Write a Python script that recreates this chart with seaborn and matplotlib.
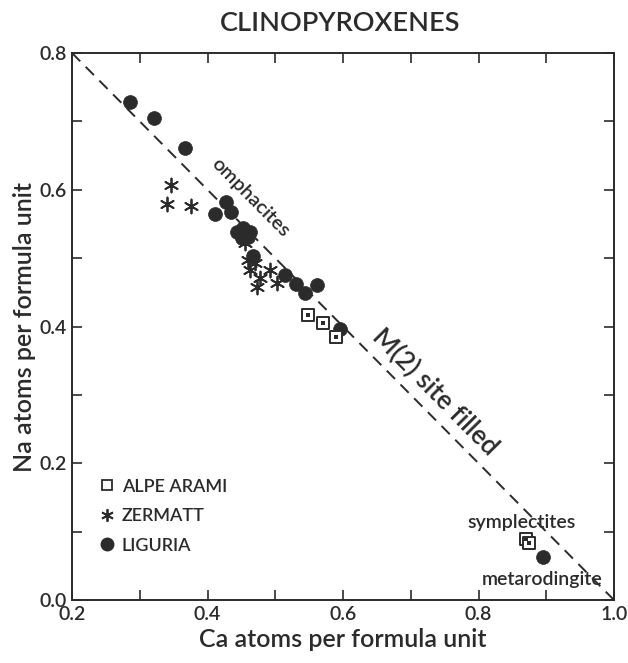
import numpy as np
import pandas as pd
import matplotlib
matplotlib.use("Agg")
import matplotlib.pyplot as plt
import seaborn as sns
from matplotlib.lines import Line2D

# ---- data ----
liguria_ca = [0.286, 0.321, 0.367, 0.411, 0.427, 0.435, 0.444, 0.452, 0.463, 0.451,
              0.460, 0.467, 0.514, 0.531, 0.544, 0.562, 0.596, 0.895]
liguria_na = [0.728, 0.705, 0.661, 0.565, 0.582, 0.567, 0.538, 0.544, 0.538, 0.529,
              0.531, 0.503, 0.475, 0.462, 0.449, 0.461, 0.396, 0.063]
zermatt_ca = [0.346, 0.340, 0.376, 0.455, 0.460, 0.470, 0.463, 0.492, 0.477, 0.503, 0.473]
zermatt_na = [0.607, 0.579, 0.576, 0.522, 0.497, 0.493, 0.483, 0.483, 0.471, 0.464, 0.458]
arami_ca = [0.548, 0.570, 0.590, 0.870, 0.875]
arami_na = [0.417, 0.405, 0.385, 0.089, 0.083]

line_ca = [0.2, 1.0]
line_na = [0.8, 0.0]

x_ticks = [0.2, 0.3, 0.4, 0.5, 0.6, 0.7, 0.8, 0.9, 1.0]
x_ticklabels = ["0.2", "", "0.4", "", "0.6", "", "0.8", "", "1.0"]
y_ticks = [0.0, 0.1, 0.2, 0.3, 0.4, 0.5, 0.6, 0.7, 0.8]
y_ticklabels = ["0.0", "", "0.2", "", "0.4", "", "0.6", "", "0.8"]

df = pd.concat([
    pd.DataFrame({"Ca": arami_ca, "Na": arami_na, "loc": "ALPE ARAMI"}),
    pd.DataFrame({"Ca": zermatt_ca, "Na": zermatt_na, "loc": "ZERMATT"}),
    pd.DataFrame({"Ca": liguria_ca, "Na": liguria_na, "loc": "LIGURIA"}),
])

sns.set_theme(style="white")
plt.rcParams["font.family"] = ["Lato", "DejaVu Sans"]
plt.rcParams["font.weight"] = "semibold"
ink = "#2b2b2b"
fw = "semibold"

fig = plt.figure(figsize=(6.28, 6.63), dpi=100)
ax = fig.add_axes([72/628, 1-600/663, (614-72)/628, (600-53)/663])

ax.plot(line_ca, line_na, ls=(0, (6, 4)), color=ink, lw=1.4, zorder=1)

d_lig = df[df["loc"] == "LIGURIA"]
d_zer = df[df["loc"] == "ZERMATT"]
d_ara = df[df["loc"] == "ALPE ARAMI"]

sns.scatterplot(data=d_lig, x="Ca", y="Na", marker="o", s=100, color=ink,
                edgecolor=ink, linewidth=0.5, ax=ax, zorder=3)
sns.scatterplot(data=d_zer, x="Ca", y="Na", marker=(6, 2, 0), s=100, color=ink,
                edgecolor=ink, linewidth=1.3, ax=ax, zorder=3)
sns.scatterplot(data=d_ara, x="Ca", y="Na", marker="s", s=65, facecolor="white",
                edgecolor=ink, linewidth=1.4, ax=ax, zorder=4)
sns.scatterplot(data=d_ara, x="Ca", y="Na", marker="s", s=5, color=ink,
                edgecolor=ink, linewidth=0, ax=ax, zorder=5)

ax.set_xlim(0.2, 1.0)
ax.set_ylim(0.0, 0.8)
ax.set_xticks(x_ticks)
ax.set_xticklabels(x_ticklabels, fontweight=fw)
ax.set_yticks(y_ticks)
ax.set_yticklabels(y_ticklabels, fontweight=fw)
ax.tick_params(direction="in", length=7, width=1.2, colors=ink, labelsize=14,
               top=True, right=True, bottom=True, left=True, pad=4)
for sp in ax.spines.values():
    sp.set_color(ink)
    sp.set_linewidth(1.4)

ax.set_xlabel("Ca atoms per formula unit", fontsize=18, color=ink, labelpad=4,
              fontweight=fw)
ax.set_ylabel("Na atoms per formula unit", fontsize=18, color=ink, labelpad=2,
              fontweight=fw)
fig.text(0.541, 0.965, "CLINOPYROXENES", ha="center", va="center",
         fontsize=19.5, color=ink, fontweight=fw)

rot = -45.3
ax.text(0.464, 0.588, "omphacites", rotation=rot, rotation_mode="anchor",
        ha="center", va="center", fontsize=14.5, color=ink, fontweight=fw)
ax.text(0.736, 0.304, "M(2) site filled", rotation=rot, rotation_mode="anchor",
        ha="center", va="center", fontsize=19, color=ink, fontweight=fw)
ax.text(0.863, 0.114, "symplectites", ha="center", va="center", fontsize=14,
        color=ink, fontweight=fw)
ax.text(0.894, 0.030, "metarodingite", ha="center", va="center", fontsize=14,
        color=ink, fontweight=fw)

handles = [
    Line2D([], [], marker="s", ls="", markersize=7, markerfacecolor="white",
           markeredgecolor=ink, markeredgewidth=1.3),
    Line2D([], [], marker=(6, 2, 0), ls="", markersize=9, color=ink,
           markeredgewidth=1.3),
    Line2D([], [], marker="o", ls="", markersize=9, color=ink),
]
labels = ["ALPE ARAMI", "ZERMATT", "LIGURIA"]
leg = ax.legend(handles, labels, loc="upper left", bbox_to_anchor=(0.035, 0.235),
                frameon=False, fontsize=13, handletextpad=0.3, labelspacing=0.75,
                handlelength=1.0, borderaxespad=0, prop={"weight": fw, "size": 13})
for t in leg.get_texts():
    t.set_color(ink)

fig.savefig("out.png", dpi=100)
